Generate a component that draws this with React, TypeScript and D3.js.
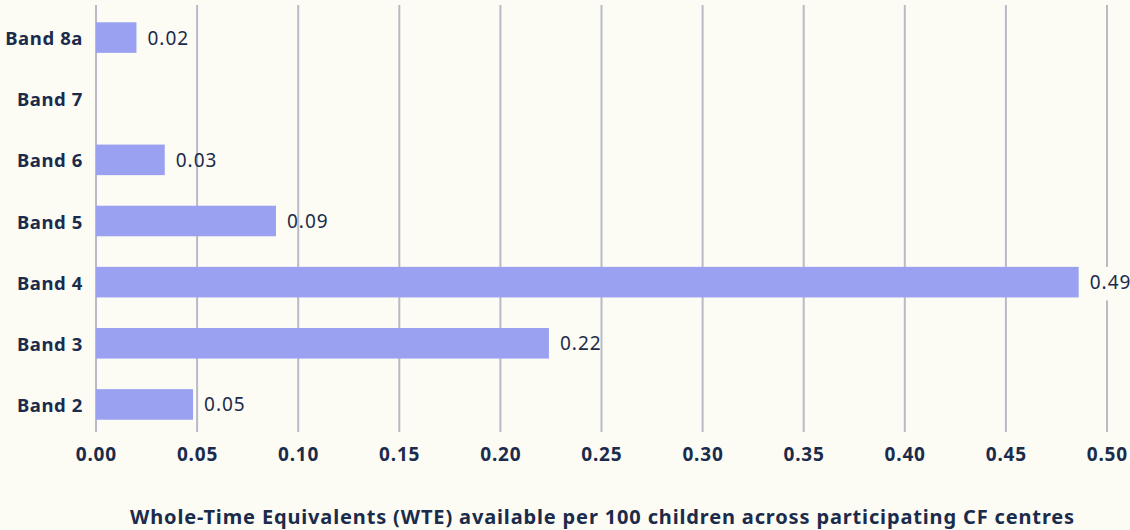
import React from "react";
import * as d3 from "d3";

const categories = ["Band 8a", "Band 7", "Band 6", "Band 5", "Band 4", "Band 3", "Band 2"];
const values = [0.02, 0, 0.034, 0.089, 0.486, 0.224, 0.048];
const ticks = [0, 0.05, 0.1, 0.15, 0.2, 0.25, 0.3, 0.35, 0.4, 0.45, 0.5];
const axisTitle = "Whole-Time Equivalents (WTE) available per 100 children across participating CF centres";

const W = 1130, H = 530;
const BG = "#fcfbf4";
const TEXT = "#1b2b4b";
const BAR = "#99a1f0";
const GRID = "#b8bbc6";
const FONT = "'Noto Sans', 'Open Sans', sans-serif";

export default function App() {
  const x = d3.scaleLinear().domain([0, 0.5]).range([96, 1107]);
  const y = d3.scaleBand<string>().domain(categories).range([7, 435]).paddingInner(0.5).paddingOuter(0.25);
  const gridTop = 5, gridBottom = 432;
  return (
    <svg width={W} height={H} style={{ position: "absolute", left: 0, top: 0, background: BG, fontFamily: FONT }}>
      <rect x={0} y={0} width={W} height={H} fill={BG} />
      {ticks.map((t) => (
        <line key={t} x1={x(t)} x2={x(t)} y1={gridTop} y2={gridBottom} stroke={GRID} strokeWidth={2} />
      ))}
      {categories.map((c, i) => {
        const v = values[i];
        const yy = y(c)!;
        const bw = y.bandwidth();
        const lx = x(v) + 11;
        const label = v.toFixed(2);
        const overLast = v > 0 && lx + 45 > x(ticks[ticks.length - 1]);
        return (
          <g key={c}>
            <text x={83} y={yy + bw / 2} textAnchor="end" dominantBaseline="central" fontWeight={700} fontSize={18.5} letterSpacing={0.6} fill={TEXT}>{c}</text>
            {v > 0 && <rect x={x(0)} y={yy} width={x(v) - x(0)} height={bw} fill={BAR} />}
            {v > 0 && overLast && <rect x={lx - 4} y={yy} width={50} height={bw + 3} fill={BG} />}
            {v > 0 && (
              <text x={lx} y={yy + bw / 2} dominantBaseline="central" fontSize={19} letterSpacing={1} fill={TEXT}>{label}</text>
            )}
          </g>
        );
      })}
      {ticks.map((t) => (
        <text key={"t" + t} x={x(t) + 0.4} y={454} textAnchor="middle" dominantBaseline="central" fontWeight={700} fontSize={19} letterSpacing={0.8} fill={TEXT}>{t.toFixed(2)}</text>
      ))}
      <text x={(x(0) + x(0.5)) / 2 + 1} y={516} textAnchor="middle" dominantBaseline="central" fontWeight={700} fontSize={20} letterSpacing={0.85} fill={TEXT}>{axisTitle}</text>
    </svg>
  );
}
